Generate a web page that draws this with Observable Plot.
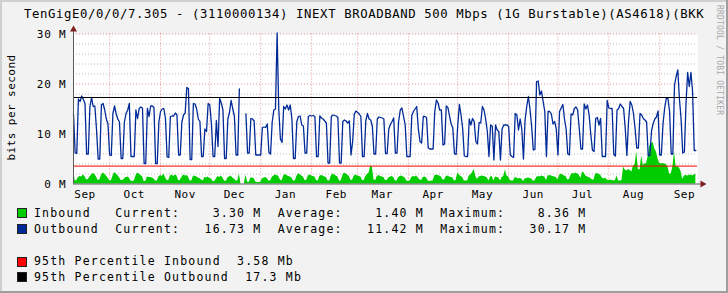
<!DOCTYPE html>
<html><head><meta charset="utf-8">
<script src="https://cdn.jsdelivr.net/npm/d3@7"></script>
<script src="https://cdn.jsdelivr.net/npm/@observablehq/plot@0.6"></script>
<style>
html,body{margin:0;padding:0;background:#f2f2f2;}
#wrap{position:relative;width:728px;height:293px;overflow:hidden;background:#f2f2f2;font-family:"DejaVu Sans Mono",monospace;color:#000;}
#wrap .t{position:absolute;white-space:pre;line-height:13px;}
#title{left:24px;top:7.5px;font-size:12.3px;letter-spacing:0.6px;}
.leg{left:34px;font-size:11.5px;letter-spacing:1.2px;}
.sw{position:absolute;left:17px;width:10px;height:10px;box-sizing:border-box;border:1px solid #222;}
#ylab{left:-49px;top:100.5px;width:120px;text-align:center;font-size:11px;letter-spacing:0.45px;transform:rotate(-90deg);transform-origin:60px 6.5px;}
#wm{position:absolute;left:713.5px;top:5px;writing-mode:vertical-rl;font-size:8px;line-height:10px;letter-spacing:0.2px;color:#a8a8a8;white-space:pre;}
#chart{position:absolute;left:0;top:20px;}
#chart g[aria-label="y-axis tick label"] text{letter-spacing:0.8px;}
#chart g[aria-label="x-axis tick label"] text{letter-spacing:0.5px;}
#edgeR{position:absolute;right:0;top:0;width:2px;height:293px;background:#9e9e9e;}
#edgeB{position:absolute;left:0;bottom:0;width:728px;height:2px;background:#9e9e9e;}
#edgeT{position:absolute;left:0;top:0;width:726px;height:2px;background:#cfcfcf;}
#edgeL{position:absolute;left:0;top:0;width:2px;height:291px;background:#cfcfcf;}
</style></head>
<body>
<div id="wrap">
  <div id="edgeT"></div><div id="edgeL"></div><div id="edgeR"></div><div id="edgeB"></div>
  <div class="t" id="title"></div>
  <div id="chart"></div>
  <div class="t" id="ylab">bits per second</div>
  <div id="wm">RRDTOOL / TOBI OETIKER</div>
  <div class="sw" style="top:208px;background:#00cc00"></div>
  <div class="sw" style="top:224px;background:#002a97"></div>
  <div class="sw" style="top:256.5px;background:#ff0000"></div>
  <div class="sw" style="top:272px;background:#000000"></div>
  <div class="t leg" id="l1" style="top:207.2px"></div>
  <div class="t leg" id="l2" style="top:222.7px"></div>
  <div class="t leg" id="l3" style="top:255px"></div>
  <div class="t leg" id="l4" style="top:270.7px"></div>
</div>
<script>
// ---- data (daily values, Mb/s) ----
const startDay = "2016-09-09";
const outbound = [
14.0,6.2,6.1,17.0,16.5,17.6,16.9,16.1,6.0,6.0,
15.5,17.3,15.5,15.6,11.0,5.0,5.0,15.8,16.1,14.8,
13.0,12.0,5.8,5.7,14.1,15.6,14.0,13.0,12.4,5.1,
5.1,12.4,14.1,14.8,16.1,5.5,5.5,5.5,14.8,13.1,
15.1,15.4,15.2,4.1,4.1,15.1,13.5,15.6,15.6,15.3,
4.1,4.1,12.4,14.5,15.0,15.1,13.1,5.4,5.3,13.5,
13.6,13.6,14.2,13.8,5.8,5.8,12.4,13.8,14.2,19.3,
19.1,4.9,4.9,16.1,16.0,15.0,13.0,12.5,5.5,5.5,
11.0,10.5,16.1,15.8,12.0,5.5,5.5,12.7,7.5,17.1,
16.2,14.8,5.1,5.1,13.0,14.3,16.7,15.0,13.5,5.8,
5.8,19.0,null,null,null,14.0,6.2,6.2,13.1,13.0,
12.6,5.8,5.8,5.8,5.8,11.3,11.4,11.3,12.0,6.3,
6.0,12.4,14.8,15.0,30.2,15.0,9.0,8.3,15.5,15.0,
15.8,14.8,15.8,13.0,5.1,5.1,12.5,13.5,13.6,11.8,
11.6,6.2,6.2,13.5,13.7,13.6,13.7,13.5,5.5,5.5,
13.6,13.2,13.0,12.6,12.2,4.2,4.2,13.5,13.8,13.7,
13.6,13.3,4.2,4.2,12.5,12.8,12.6,12.2,12.6,5.8,
8.5,14.0,14.6,14.3,14.0,13.5,5.5,5.5,12.6,14.1,
13.0,12.8,11.5,6.0,6.0,13.0,13.4,13.3,13.2,13.0,
6.1,6.1,11.0,11.9,12.5,13.2,6.2,6.2,12.5,14.8,
15.2,13.5,11.8,5.5,5.5,5.5,13.7,14.5,15.0,15.5,
11.0,8.5,8.2,13.5,13.5,13.3,7.2,7.0,7.0,7.0,
14.5,16.8,16.2,14.8,14.8,7.8,8.0,15.6,15.3,13.6,
12.0,11.2,6.0,5.9,11.8,15.9,13.8,11.1,5.6,5.5,
5.5,13.0,11.8,13.1,12.5,8.5,8.0,12.3,12.2,15.5,
14.8,13.0,10.5,5.5,11.8,11.6,4.8,11.8,10.8,10.5,
4.8,11.0,11.8,11.8,11.8,11.5,5.8,5.5,5.3,14.1,
13.8,10.8,13.0,11.0,5.0,12.8,15.5,17.5,15.0,11.5,
6.8,6.9,20.5,20.6,17.8,18.6,16.5,14.5,5.5,14.5,
14.5,14.0,12.0,12.5,11.0,5.8,14.5,15.2,15.9,13.0,
11.0,6.0,5.8,14.0,13.8,15.1,15.4,14.8,11.1,7.0,
7.0,16.0,15.0,15.8,13.8,10.0,6.8,6.5,13.1,13.3,
11.8,13.1,5.5,5.5,5.5,16.7,15.2,15.1,15.1,5.9,
5.6,14.8,15.1,16.0,15.5,15.1,11.1,5.7,12.5,16.5,
15.8,14.1,11.1,7.2,7.2,14.1,13.8,13.1,12.8,12.4,
5.7,5.7,10.6,12.1,13.0,13.4,14.6,5.8,5.8,12.0,
15.2,17.1,17.1,14.5,6.0,6.0,19.8,21.5,22.8,17.0,
13.0,6.2,6.4,16.0,22.3,19.5,22.3,18.5,6.7,6.7
];
const inbound = [
3.3,0.6,0.7,1.3,1.5,1.4,1.8,1.5,0.8,0.9,
1.4,1.8,2.1,1.9,1.4,0.7,0.8,1.7,2.2,2.0,
1.6,1.2,0.7,0.6,1.5,2.3,2.0,1.7,1.3,0.7,
0.7,1.0,1.3,1.4,1.2,0.6,0.5,0.6,1.6,2.2,
2.0,1.7,1.5,0.5,0.5,1.4,1.3,1.3,1.2,1.0,
0.6,0.6,1.4,1.7,1.5,2.0,1.3,0.7,0.7,1.6,
1.8,1.5,1.8,1.6,0.7,0.7,1.3,1.8,1.6,1.7,
1.4,0.6,0.6,1.5,1.6,1.4,1.2,1.1,0.8,0.6,
1.3,1.2,1.4,1.1,1.0,0.5,0.5,1.0,1.5,1.3,
1.6,1.2,0.6,0.5,1.2,1.4,1.6,1.2,1.0,0.6,
0.6,2.0,null,null,null,1.8,0.4,0.3,1.2,1.2,
1.1,0.4,0.3,0.3,0.3,1.0,1.2,1.3,1.1,0.6,
0.6,1.3,1.6,1.8,1.7,1.5,0.8,0.6,1.6,1.9,
1.7,1.5,1.4,1.2,0.6,0.6,1.5,2.0,1.9,1.6,
1.4,0.7,0.7,1.6,1.8,1.6,1.5,1.4,0.7,0.6,
1.5,1.7,1.6,1.4,1.3,0.6,0.6,1.6,2.0,1.8,
1.6,1.4,0.6,0.6,1.7,2.2,2.0,1.8,1.5,0.7,
0.8,1.6,1.8,1.6,1.5,1.4,0.7,0.7,1.5,1.9,
2.2,3.6,3.4,0.8,0.7,1.5,1.7,1.5,1.4,1.3,
0.7,0.7,1.2,1.4,1.5,1.3,0.6,0.6,1.3,1.5,
1.6,1.4,1.2,0.6,0.5,0.6,1.3,1.5,1.4,1.6,
1.2,0.8,0.7,1.3,1.4,1.2,0.6,0.5,0.6,0.6,
1.6,1.8,1.7,1.6,1.4,0.8,0.8,1.5,1.6,1.4,
1.3,1.2,0.6,0.7,2.2,1.8,1.5,1.3,0.6,0.6,
0.6,1.6,1.8,2.3,2.9,1.5,0.9,1.4,1.5,1.6,
1.5,1.4,1.2,0.6,1.4,1.5,0.6,1.4,1.3,1.2,
0.6,1.3,1.5,2.8,1.6,1.4,0.7,0.6,0.6,1.3,
1.2,1.0,1.1,1.0,0.5,1.0,1.1,1.2,1.1,1.0,
0.6,0.6,1.3,1.5,1.4,1.6,1.5,1.4,0.7,1.6,
1.7,1.6,1.5,1.4,1.3,0.8,1.7,2.0,1.8,1.6,
1.5,0.8,0.9,1.8,2.1,2.0,2.2,2.0,1.8,1.1,
2.4,2.2,1.6,1.4,1.3,1.1,0.8,0.8,2.0,2.1,
1.9,1.8,1.2,1.0,1.2,0.8,0.7,0.8,0.7,0.6,
0.7,1.6,0.6,0.6,0.7,3.4,2.8,2.6,2.9,2.7,
2.4,3.6,3.8,6.5,2.9,2.8,5.6,3.7,4.0,4.1,
5.6,7.6,8.0,8.36,7.0,6.4,5.0,4.1,4.0,4.1,
4.0,3.9,3.4,2.0,2.0,3.4,6.4,3.4,3.5,3.2,
2.5,0.9,1.6,1.7,1.6,1.7,1.8,1.6,1.8,2.0
];
const pct95In = 3.58;
const pct95Out = 17.3;
const yTicks = [0, 10, 20, 30];
const yMinor = [2, 4, 6, 8, 12, 14, 16, 18, 22, 24, 26, 28];
const yMajor = [10, 20, 30];
const monthLabels = ["Sep","Oct","Nov","Dec","Jan","Feb","Mar","Apr","May","Jun","Jul","Aug","Sep"];
const titleText = "TenGigE0/0/0/7.305 - (3110000134) INEXT BROADBAND 500 Mbps (1G Burstable)(AS4618)(BKK";
const legendNames = ["Inbound", "Outbound"];
const legendCurrent = ["3.30", "16.73"];
const legendAverage = ["1.40", "11.42"];
const legendMaximum = ["8.36", "30.17"];

// ---- build ----
const t0 = new Date(startDay + "T00:00:00Z");
const rows = outbound.map((v, i) => ({date: d3.utcDay.offset(t0, i), out: v, inb: inbound[i]}));
const tEnd = d3.utcDay.offset(t0, outbound.length);
const firstMonth = d3.utcMonth.ceil(t0);
const monthStarts = d3.utcMonths(firstMonth, tEnd);
const labelDates = d3.utcMonths(d3.utcMonth.floor(t0), tEnd).map(d => d3.utcDay.offset(d, 15));
const labelMap = new Map(labelDates.map((d, i) => [+d, monthLabels[i]]));

const chart = Plot.plot({
  width: 728,
  height: 180,
  marginLeft: 73,
  marginRight: 31,
  marginTop: 13.5,
  marginBottom: 16.5,
  style: {background: "transparent", fontFamily: "DejaVu Sans Mono", fontSize: "11px", color: "#000", overflow: "visible"},
  x: {type: "utc", domain: [t0, tEnd]},
  y: {domain: [0, 30]},
  marks: [
    Plot.frame({fill: "#ffffff", stroke: "none"}),
    Plot.ruleY(yMinor, {stroke: "#8f8f8f", strokeOpacity: 0.6, strokeDasharray: "1,2"}),
    Plot.ruleY(yMajor, {stroke: "#de4f4f", strokeOpacity: 0.6, strokeDasharray: "1,2"}),
    Plot.ruleX(monthStarts, {stroke: "#de4f4f", strokeOpacity: 0.6, strokeDasharray: "1,2"}),
    Plot.areaY(rows, {x: "date", y: "inb", fill: "#00cc00"}),
    Plot.lineY(rows, {x: "date", y: "out", stroke: "#002a97", strokeWidth: 1.3}),
    Plot.ruleY([pct95In], {stroke: "#ff0000", strokeWidth: 1}),
    Plot.ruleY([pct95Out], {stroke: "#000000", strokeWidth: 1}),
    Plot.ruleX([t0], {stroke: "#5a5a5a", insetTop: -4}),
    Plot.ruleY([0], {stroke: "#5a5a5a", insetRight: -4}),
    Plot.dot([0], {frameAnchor: "top-left", symbol: "triangle", r: 2.6, fill: "#801f1f", stroke: "none", dy: -4.5}),
    Plot.dot([0], {frameAnchor: "bottom-right", symbol: "triangle", rotate: 90, r: 2.6, fill: "#801f1f", stroke: "none", dx: 5}),
    Plot.axisY({ticks: yTicks, tickFormat: d => `${d} M`, tickSize: 0, tickPadding: 7, label: null}),
    Plot.axisX({ticks: labelDates, tickFormat: d => labelMap.get(+d), tickSize: 0, tickPadding: 6, label: null})
  ]
});
document.getElementById("chart").appendChild(chart);

document.getElementById("title").textContent = titleText;
function pad(s, n) { return s.padStart(n, " "); }
function legLine(i) {
  return legendNames[i].padEnd(10, " ") + "Current:" + pad(legendCurrent[i], 8) + " M  " +
    "Average:" + pad(legendAverage[i], 8) + " M  " + "Maximum:" + pad(legendMaximum[i], 8) + " M";
}
document.getElementById("l1").textContent = legLine(0);
document.getElementById("l2").textContent = legLine(1);
document.getElementById("l3").textContent = "95th Percentile Inbound  " + pct95In + " Mb";
document.getElementById("l4").textContent = "95th Percentile Outbound  " + pct95Out + " Mb";
</script>
</body></html>
